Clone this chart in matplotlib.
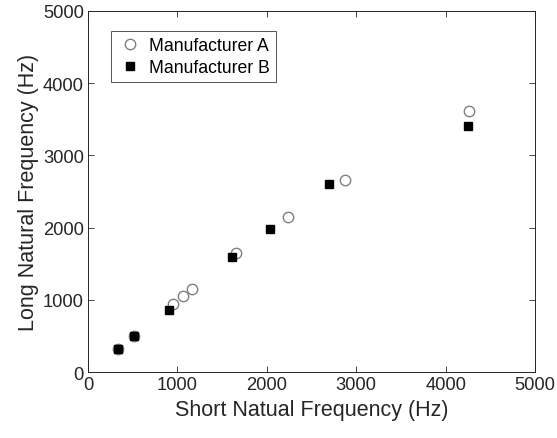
import matplotlib
matplotlib.use("Agg")
import matplotlib.pyplot as plt

a_short = [335, 515, 955, 1065, 1165, 1655, 2240, 2880, 4265]
a_long = [320, 505, 940, 1050, 1150, 1655, 2145, 2655, 3620]
b_short = [335, 515, 910, 1610, 2035, 2695, 4255]
b_long = [320, 505, 860, 1590, 1985, 2605, 3405]
ticks = [0, 1000, 2000, 3000, 4000, 5000]

plt.rcParams['font.family'] = ['Liberation Sans', 'DejaVu Sans']
fig = plt.figure(figsize=(5.57, 4.39), dpi=100)
ax = fig.add_axes([0.158, 0.1503, 0.8025, 0.8224])
ax.plot(a_short, a_long, 'o', ms=7.5, mfc='none', mec='#808080', mew=1.0, label='Manufacturer A')
ax.plot(b_short, b_long, 's', ms=5.2, color='black', label='Manufacturer B')
ax.set_xlim(0, 5000)
ax.set_ylim(0, 5000)
ax.set_xticks(ticks)
ax.set_yticks(ticks)
ax.tick_params(direction='in', top=True, right=True, labelsize=13.2, colors='#262626', length=4, width=0.6, pad=3)
for s in ax.spines.values():
    s.set_color('#262626')
    s.set_linewidth(0.7)
ax.set_xlabel('Short Natual Frequency (Hz)', fontsize=15.5, color='#262626', labelpad=4)
ax.set_ylabel('Long Natural Frequency (Hz)', fontsize=15.5, color='#262626', labelpad=3)
leg = ax.legend(loc='upper left', bbox_to_anchor=(0.051, 0.945), borderaxespad=0, fontsize=12.7, frameon=True,
                fancybox=False, edgecolor='#262626', handletextpad=0.3, borderpad=0.35, labelspacing=0.3,
                handlelength=1.5)
leg.get_frame().set_linewidth(0.7)
fig.savefig('out.png', dpi=100)
